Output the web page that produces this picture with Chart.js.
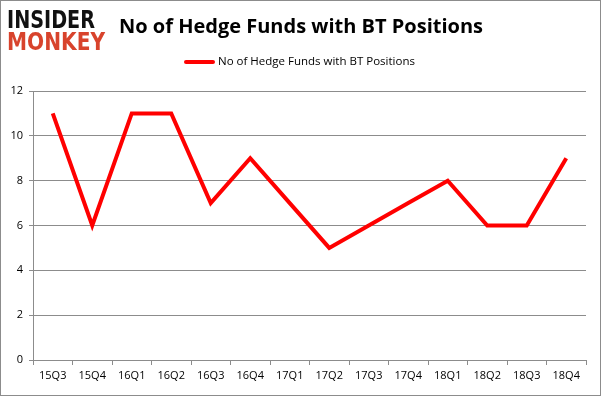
<!DOCTYPE html>
<html>
<head>
<meta charset="utf-8">
<script src="https://cdn.jsdelivr.net/npm/chart.js@4"></script>
<style>
  html, body { margin: 0; padding: 0; background: #fff; }
  #wrap { width: 601px; height: 396px; position: relative; }
</style>
</head>
<body>
<div id="wrap"><canvas id="c" width="601" height="396"></canvas></div>
<script>
// chart values
const quarters = ['15Q3','15Q4','16Q1','16Q2','16Q3','16Q4','17Q1','17Q2','17Q3','17Q4','18Q1','18Q2','18Q3','18Q4'];
const fundCounts = [11, 6, 11, 11, 7, 9, 7, 5, 6, 7, 8, 6, 6, 9];
const yTicks = [0, 2, 4, 6, 8, 10, 12];
const seriesName = 'No of Hedge Funds with BT Positions';
const chartTitle = 'No of Hedge Funds with BT Positions';

const font = 'Open Sans';

// title, legend, logo and frame drawn by hand
const decorations = {
  id: 'decorations',
  afterDraw(chart) {
    const ctx = chart.ctx;
    ctx.save();
    // outer frame
    ctx.strokeStyle = '#8c8c8c';
    ctx.lineWidth = 1;
    ctx.strokeRect(0.5, 0.5, 600, 395);

    // logo
    ctx.textBaseline = 'alphabetic';
    ctx.textAlign = 'left';
    ctx.font = '900 24px "DejaVu Sans"';
    ctx.fillStyle = '#111';
    ctx.fillText('INSIDER', 7, 28, 88);
    ctx.fillStyle = '#d8432c';
    ctx.fillText('MONKEY', 7, 50, 98);

    // title
    ctx.fillStyle = '#000';
    ctx.textAlign = 'center';
    ctx.font = 'bold 20px "' + font + '"';
    ctx.fillText(chartTitle, 301, 33);

    // legend
    ctx.strokeStyle = '#ff0000';
    ctx.lineWidth = 4;
    ctx.lineCap = 'round';
    ctx.beginPath();
    ctx.moveTo(186, 62);
    ctx.lineTo(213, 62);
    ctx.stroke();
    ctx.textAlign = 'left';
    ctx.textBaseline = 'middle';
    ctx.font = '11.5px "' + font + '"';
    ctx.fillStyle = '#000';
    ctx.fillText(seriesName, 218, 62);
    ctx.restore();
  }
};

new Chart(document.getElementById('c'), {
  type: 'line',
  data: {
    labels: quarters,
    datasets: [{
      label: seriesName,
      data: fundCounts,
      borderColor: '#ff0000',
      borderWidth: 4,
      pointRadius: 0,
      tension: 0,
      fill: false
    }]
  },
  options: {
    responsive: false,
    animation: false,
    layout: { padding: { left: 0, right: 15, top: 91, bottom: 0 } },
    plugins: {
      legend: { display: false },
      title: { display: false },
      tooltip: { enabled: false }
    },
    scales: {
      x: {
        offset: true,
        afterFit(scale) { scale.height = 36; },
        grid: {
          offset: true,
          drawOnChartArea: false,
          drawTicks: true,
          tickLength: 5,
          color: '#8c8c8c'
        },
        border: { color: '#8c8c8c', width: 1 },
        ticks: {
          color: '#000',
          font: { family: font, size: 11 },
          maxRotation: 0,
          autoSkip: false,
          padding: 4
        }
      },
      y: {
        min: 0,
        max: 12,
        afterFit(scale) { scale.width = 33; },
        afterBuildTicks(scale) { scale.ticks = yTicks.map(v => ({ value: v })); },
        grid: {
          color: '#8c8c8c',
          drawTicks: true,
          tickLength: 4
        },
        border: { color: '#8c8c8c', width: 1 },
        ticks: {
          color: '#000',
          font: { family: font, size: 11 },
          padding: 6
        }
      }
    }
  },
  plugins: [decorations]
});
</script>
</body>
</html>
